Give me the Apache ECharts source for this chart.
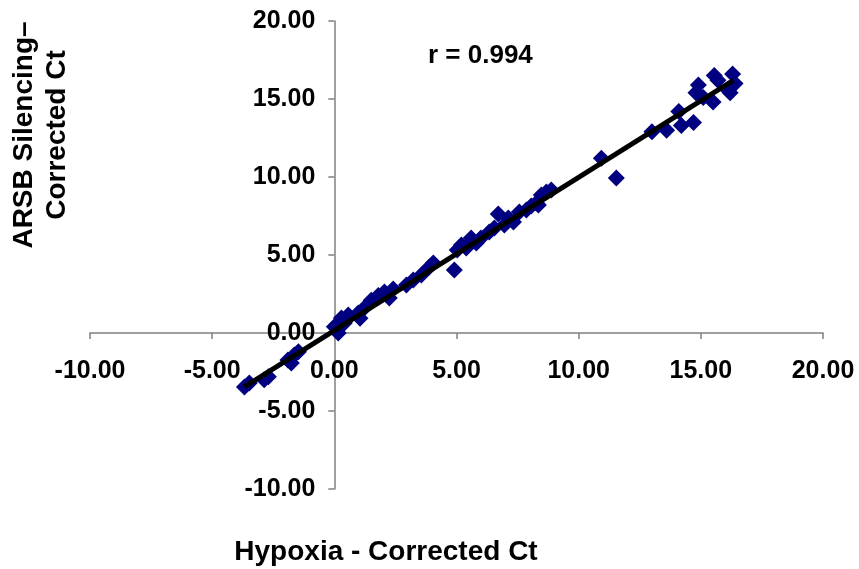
<!DOCTYPE html>
<html>
<head>
<meta charset="utf-8">
<script src="https://cdn.jsdelivr.net/npm/echarts@6/dist/echarts.min.js"></script>
<style>
  html, body { margin: 0; padding: 0; background: #fff; }
  #chart { width: 859px; height: 569px; }
</style>
</head>
<body>
<div id="chart"></div>
<script>
// Hypoxia corrected Ct (x) vs ARSB silencing corrected Ct (y)
const hypoxiaCt = [
  -3.68, -3.48, -2.87, -2.70, -1.90, -1.76, -1.64, -1.47,
  0.00, 0.16, 0.29, 0.41, 0.57, 0.98, 1.23, 1.05, 1.51, 1.80,
  2.05, 2.25, 2.41, 2.95, 3.23, 3.56, 3.89, 4.05, 4.91,
  5.03, 5.20, 5.40, 5.60, 5.81, 6.00, 6.34, 6.55, 6.71, 6.96,
  7.12, 7.33, 7.57, 7.86, 8.06, 8.27, 8.35, 8.47, 8.68, 8.88,
  10.93, 11.54, 13.00, 13.60, 14.10, 14.20, 14.70, 14.80, 14.90,
  15.10, 15.50, 15.55, 15.70, 16.10, 16.30, 16.40, 16.20
]
const silencingCt = [
  -3.46, -3.20, -3.00, -2.80, -1.73, -1.92, -1.41, -1.20,
  0.40, 0.00, 0.96, 0.64, 1.15, 1.28, 1.60, 0.95, 2.10, 2.40,
  2.63, 2.24, 2.82, 3.08, 3.40, 3.72, 4.23, 4.49, 4.04,
  5.32, 5.64, 5.45, 6.09, 5.77, 6.09, 6.47, 6.73, 7.63, 6.92,
  7.37, 7.12, 7.76, 7.88, 8.14, 8.33, 8.20, 8.85, 9.04, 9.17,
  11.20, 9.94, 12.90, 13.00, 14.20, 13.30, 13.50, 15.40, 15.90,
  15.10, 14.80, 16.50, 16.20, 15.60, 16.60, 16.00, 15.40
]
// fitted line end points
const trendX = [-3.68, 16.33]
const trendY = [-3.46, 16.20]
const rLabel = 'r = 0.994'
const xTitle = 'Hypoxia - Corrected Ct'
const yTitle = 'ARSB Silencing–\nCorrected Ct'

const fontFamily = '"Liberation Sans", Arial, sans-serif'
const axisColor = '#808080'

const xMin = -10, xMax = 20, yMin = -10, yMax = 20
const gridLeft = 90, gridRight = 36, gridTop = 21, gridBottom = 80
const chartW = 859, chartH = 569

// move the axes so they cross at zero (same as Excel's layout)
const plotW = chartW - gridLeft - gridRight
const plotH = chartH - gridTop - gridBottom
const xAxisOffset = -plotH * (0 - yMin) / (yMax - yMin)
const yAxisOffset = -plotW * (0 - xMin) / (xMax - xMin)

const myChart = echarts.init(document.getElementById('chart'))

const option = {
  animation: false,
  grid: {
    left: gridLeft,
    right: gridRight,
    top: gridTop,
    bottom: gridBottom,
    outerBoundsMode: 'none'
  },
  xAxis: {
    type: 'value',
    min: xMin,
    max: xMax,
    interval: 5,
    position: 'bottom',
    offset: xAxisOffset,
    axisLine: { onZero: false, lineStyle: { color: axisColor, width: 1.5 } },
    axisTick: { show: true, length: 6, lineStyle: { color: axisColor, width: 1.5 } },
    splitLine: { show: false },
    axisLabel: {
      margin: 26,
      color: '#000',
      fontSize: 25,
      fontWeight: 'bold',
      fontFamily: fontFamily,
      formatter: (v) => v.toFixed(2)
    }
  },
  yAxis: {
    type: 'value',
    min: yMin,
    max: yMax,
    interval: 5,
    position: 'left',
    offset: yAxisOffset,
    axisLine: { show: true, onZero: false, lineStyle: { color: axisColor, width: 1.5 } },
    axisTick: { show: true, length: 6, lineStyle: { color: axisColor, width: 1.5 } },
    splitLine: { show: false },
    axisLabel: {
      margin: 19,
      color: '#000',
      fontSize: 25,
      fontWeight: 'bold',
      fontFamily: fontFamily,
      formatter: (v) => v.toFixed(2)
    }
  },
  graphic: [
    {
      type: 'text',
      x: 428,
      y: 56,
      style: {
        text: rLabel,
        fill: '#000',
        font: 'bold 26px ' + fontFamily,
        textAlign: 'left',
        textVerticalAlign: 'middle'
      }
    },
    {
      type: 'text',
      x: 386,
      y: 552,
      style: {
        text: xTitle,
        fill: '#000',
        font: 'bold 28px ' + fontFamily,
        textAlign: 'center',
        textVerticalAlign: 'middle'
      }
    },
    {
      type: 'text',
      x: 41,
      y: 135,
      rotation: Math.PI / 2,
      style: {
        text: yTitle,
        fill: '#000',
        font: 'bold 28px ' + fontFamily,
        lineHeight: 33,
        textAlign: 'center',
        textVerticalAlign: 'middle'
      }
    }
  ],
  series: [
    {
      type: 'scatter',
      symbol: 'diamond',
      symbolSize: 17,
      itemStyle: { color: '#000080', opacity: 1 },
      data: hypoxiaCt.map((x, i) => [x, silencingCt[i]]),
      z: 2
    },
    {
      type: 'line',
      symbol: 'none',
      lineStyle: { color: '#000', width: 5 },
      data: trendX.map((x, i) => [x, trendY[i]]),
      z: 3
    }
  ]
}
myChart.setOption(option)
</script>
</body>
</html>
